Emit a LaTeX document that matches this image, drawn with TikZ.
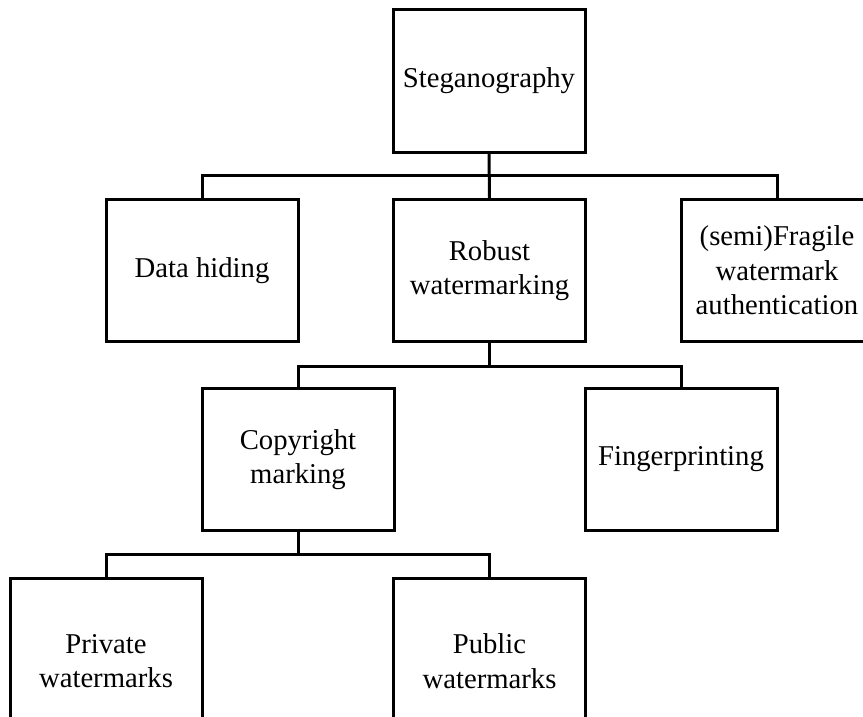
\documentclass[tikz,border=0pt]{standalone}
\usepackage{fontspec}
\setmainfont{Liberation Serif}
\begin{document}
\begin{tikzpicture}[x=1pt,y=1pt,
  box/.style={draw, line width=3pt, minimum width=192pt, minimum height=142pt, inner sep=0pt, align=center, font=\fontsize{28.7}{34.5}\selectfont},
  tallbox/.style={box, minimum height=166pt},
  link/.style={line width=3pt}]
\useasboundingbox (0,0) rectangle (863,-717);
\clip (0,0) rectangle (863,-717);
\node[box] (steg) at (489,-81) {Steganography};
\node[box] (dh) at (202,-270.5) {Data hiding};
\node[box] (rob) at (489.5,-270.5) {Robust\\watermarking};
\node[box] (fr) at (777,-270.5) {(semi)Fragile\\watermark\\authentication};
\node[box] (cp) at (298,-459.5) {Copyright\\marking};
\node[box] (fp) at (681,-459.5) {Fingerprinting};
\node[tallbox] (pr) at (106,-661) {Private\\watermarks};
\node[tallbox] (pu) at (489.5,-661) {Public\\watermarks};
\coordinate (b1) at (489.5,-175);
\coordinate (b2) at (489.5,-366);
\coordinate (b3) at (298,-554);
\draw[link] (steg.south) -- (rob.north);
\draw[link] (dh.north) |- (b1) -| (fr.north);
\draw[link] (rob.south) -- (b2);
\draw[link] (cp.north) |- (b2) -| (fp.north);
\draw[link] (cp.south) -- (b3);
\draw[link] (pr.north) |- (b3) -| (pu.north);
\end{tikzpicture}
\end{document}
